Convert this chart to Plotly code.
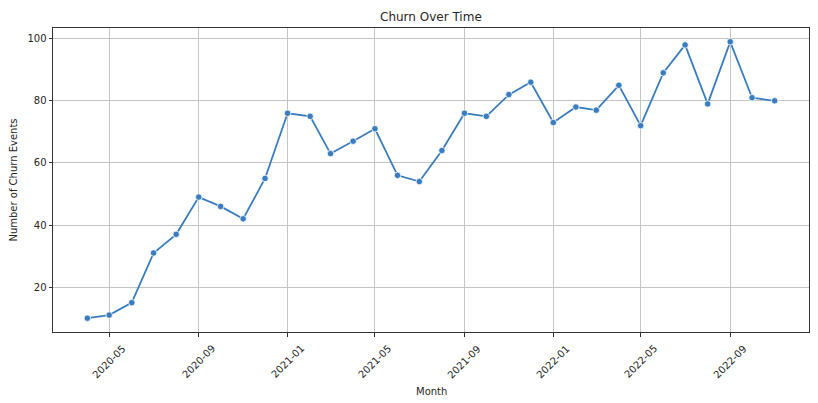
import pandas as pd
import plotly.graph_objects as go

# ── data ─────────────────────────────────────────────────────────────────────
months = pd.date_range("2020-04-01", "2022-11-01", freq="MS")
churn_events = [
    10, 11, 15, 31, 37, 49, 46, 42, 55,          # 2020-04 .. 2020-12
    76, 75, 63, 67, 71, 56, 54, 64, 76, 75, 82, 86,  # 2021
    73, 78, 77, 85, 72, 89, 98, 79, 99, 81, 80,  # 2022-01 .. 2022-11
]
tick_dates = pd.date_range("2020-05-01", "2022-09-01", freq="4MS")
tick_labels = [d.strftime("%Y-%m") for d in tick_dates]

LINE = "#3a7dbe"
GRID = "#c4c4c4"
FONT = "DejaVu Sans"
TEXT = "#262626"

# matplotlib-style 5% margins
span = months[-1] - months[0]
x_range = [months[0] - span * 0.05, months[-1] + span * 0.05]
ymin, ymax = min(churn_events), max(churn_events)
y_pad = (ymax - ymin) * 0.05
y_range = [ymin - y_pad, ymax + y_pad]

fig = go.Figure()
fig.add_trace(go.Scatter(
    x=months, y=churn_events,
    mode="lines+markers",
    line=dict(color=LINE, width=1.8),
    marker=dict(size=6.5, color=LINE, line=dict(color="white", width=0.8)),
    showlegend=False,
))

# rotated month labels centred under each tick (matplotlib style)
for d, lab in zip(tick_dates, tick_labels):
    fig.add_annotation(
        x=d, y=0, xref="x", yref="paper",
        text=lab, textangle=-45, showarrow=False,
        xanchor="center", yanchor="top", yshift=-8,
        font=dict(family=FONT, size=10, color=TEXT),
    )

fig.add_annotation(
    x=0.5, y=0, xref="paper", yref="paper", text="Month", showarrow=False,
    xanchor="center", yanchor="middle", yshift=-59,
    font=dict(family=FONT, size=10, color=TEXT),
)
fig.add_annotation(
    x=0.5, y=1, xref="paper", yref="paper", text="Churn Over Time", showarrow=False,
    xanchor="center", yanchor="middle", yshift=11,
    font=dict(family=FONT, size=12, color=TEXT),
)

# page body adds ~8px offset, so the figure is sized a bit smaller
fig.update_layout(
    width=810, height=395,
    margin=dict(l=45, r=9, t=20, b=71),
    paper_bgcolor="white", plot_bgcolor="white",
    font=dict(family=FONT, size=10, color=TEXT),
)
fig.update_xaxes(
    range=x_range, automargin=False,
    tickvals=tick_dates, showticklabels=False,
    showgrid=True, gridcolor=GRID, gridwidth=1,
    showline=True, linecolor="#333333", linewidth=1, mirror=True,
    ticks="outside", ticklen=3.5, tickcolor="#333333",
    zeroline=False,
)
fig.update_yaxes(
    range=y_range, automargin=False,
    tickvals=[20, 40, 60, 80, 100],
    showgrid=True, gridcolor=GRID, gridwidth=1,
    showline=True, linecolor="#333333", linewidth=1, mirror=True,
    ticks="outside", ticklen=3.5, tickcolor="#333333",
    title=dict(text="Number of Churn Events", standoff=8, font=dict(size=10)),
    zeroline=False,
)

fig.write_html("out.html")
